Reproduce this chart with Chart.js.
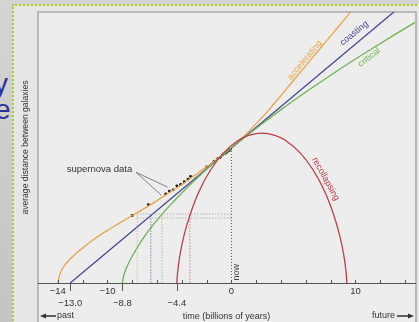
<!DOCTYPE html>
<html>
<head>
<meta charset="utf-8">
<script src="https://cdn.jsdelivr.net/npm/chart.js@4"></script>
<style>
    body { margin: 0; }
    #wrap { position: relative; width: 419px; height: 322px; overflow: hidden; background: linear-gradient(180deg, #d4d4d4, #c4c4c4); }
    .big { position: absolute; font: 28px "Liberation Sans", sans-serif; color: #2b2f9a; }
    #frame { position: absolute; left: 12px; top: 4px; right: -6px; bottom: -6px; border-left: 2px dotted #a4cc14; border-top: 2px dotted #a4cc14; background: #e6e6e6; }
    canvas { position: absolute; left: 0; top: 0; }
</style>
</head>
<body>
<div id="wrap">
    <span class="big" style="left:-6px;top:68px;">y</span>
    <span class="big" style="left:-5px;top:94px;">e</span>
    <div id="frame"></div>
    <canvas id="chart" width="419" height="322"></canvas>
</div>
<script>
// time in billions of years (0 = now), size = average distance (now = 1)
const accelT = [-14, -13.8, -13.5, -13, -12, -11, -10, -9, -8, -7, -6, -5, -4, -3, -2, -1, 0, 1, 2, 3, 4, 5, 6, 7, 8, 9, 10];
const accelA = [0, 0.075, 0.125, 0.18, 0.26, 0.33, 0.39, 0.445, 0.5, 0.553, 0.61, 0.67, 0.73, 0.795, 0.86, 0.93, 1.0, 1.085, 1.18, 1.28, 1.39, 1.5, 1.61, 1.72, 1.83, 1.94, 2.05];

const coastT = [-13, 0, 14];
const coastA = [0, 1, 2.077];

const critT = [-8.8, -8.7, -8.5, -8, -7, -6, -5, -4, -3, -2, -1, 0, 2, 4, 6, 8, 10, 12, 14, 14.8];
const critA = [0, 0.05, 0.105, 0.2, 0.347, 0.466, 0.571, 0.667, 0.757, 0.842, 0.923, 1.0, 1.146, 1.284, 1.414, 1.539, 1.659, 1.774, 1.886, 1.93];

const recolT = [-4.4, -4.39, -4.32, -4.15, -3.82, -3.3, -2.6, -1.7, -0.64, 0.56, 1.4, 2.45, 3.5, 4.34, 5.54, 6.6, 7.5, 8.2, 8.72, 9.05, 9.22, 9.29, 9.3];
const recolA = [0, 0.025, 0.097, 0.21, 0.354, 0.516, 0.681, 0.835, 0.964, 1.057, 1.094, 1.11, 1.094, 1.057, 0.964, 0.835, 0.681, 0.516, 0.354, 0.21, 0.097, 0.025, 0];

const snT = [-8.0, -6.7, -5.3, -5.0, -4.7, -4.4, -4.1, -3.8, -3.5, -3.3, -2.0, -1.4, -1.1, -0.9, -0.7, -0.5, -0.35, -0.2, -0.1];
const snA = [0.50, 0.58, 0.66, 0.68, 0.69, 0.72, 0.73, 0.75, 0.77, 0.79, 0.86, 0.90, 0.92, 0.93, 0.95, 0.96, 0.97, 0.98, 0.99];

// where each model had half today's size
const halfT = [-7.6, -6.5, -5.6, -3.35];
const halfA = [0.511, 0.481];

const minorTicks = [-14, -12, -10, -8, -6, -4, -2, 0, 2, 4, 6, 8, 10, 12, 14];
const mainLabels = [-14, -10, 0, 10];
const ageLabels = [-13, -8.8, -4.4];
const ageText = ['−13.0', '−8.8', '−4.4'];

const colors = {
    accel: 'rgb(232,165,75)',
    coast: 'rgb(72,72,150)',
    crit: 'rgb(112,178,82)',
    recol: 'rgb(192,62,72)'
};

const pts = (xs, ys) => xs.map((x, i) => ({ x: x, y: ys[i] }));
const curve = (data, color) => ({
    data: data, showLine: true, borderColor: color, borderWidth: 1.3,
    pointRadius: 0, tension: 0.3, fill: false
});
const dotted = (data, color) => ({
    data: data, showLine: true, borderColor: color, borderWidth: 1,
    borderDash: [1, 2], pointRadius: 0, fill: false
});

const datasets = [
    dotted(pts([halfT[0], 0], [halfA[0], halfA[0]]), 'rgba(150,150,150,0.9)'),
    dotted(pts([halfT[0], 0], [halfA[1], halfA[1]]), 'rgba(150,150,150,0.9)'),
    dotted(pts([halfT[0], halfT[0]], [0.5, 0]), colors.accel),
    dotted(pts([halfT[1], halfT[1]], [0.5, 0]), colors.coast),
    dotted(pts([halfT[2], halfT[2]], [0.5, 0]), colors.crit),
    dotted(pts([halfT[3], halfT[3]], [0.5, 0]), colors.recol),
    dotted(pts([0, 0], [1, 0]), '#555'),
    curve(pts(recolT, recolA), colors.recol),
    curve(pts(critT, critA), colors.crit),
    curve(pts(coastT, coastA), colors.coast),
    curve(pts(accelT, accelA), colors.accel),
    { data: pts(snT, snA), pointRadius: 1.4, pointBackgroundColor: '#111', pointBorderWidth: 0, showLine: false }
];

const FONT = '"Liberation Sans", Arial, sans-serif';

// panel behind the plot, tick marks, curve names and arrows
const decor = {
    id: 'decor',
    beforeDraw(chart) {
        const c = chart.ctx;
        const a = chart.chartArea;
        c.save();
        c.fillStyle = '#ededed';
        c.fillRect(a.left, a.top, a.right - a.left + 1, 330);
        c.strokeStyle = '#a9a9a9';
        c.lineWidth = 1.5;
        c.beginPath();
        c.moveTo(a.left, 330); c.lineTo(a.left, a.top); c.lineTo(a.right + 1, a.top); c.lineTo(a.right + 1, 330);
        c.stroke();
        c.restore();
    },
    afterDraw(chart) {
        const c = chart.ctx;
        const x = chart.scales.x, y = chart.scales.y;
        const base = chart.chartArea.bottom;
        c.save();
        c.strokeStyle = '#555';
        c.lineWidth = 1;
        minorTicks.forEach(v => {
            const px = Math.round(x.getPixelForValue(v)) + 0.5;
            c.beginPath(); c.moveTo(px, base); c.lineTo(px, base - 3); c.stroke();
        });
        ageLabels.forEach(v => {
            const px = Math.round(x.getPixelForValue(v)) + 0.5;
            c.beginPath(); c.moveTo(px, base); c.lineTo(px, base + 8); c.stroke();
        });

        const label = (text, t, s, angle, color) => {
            c.save();
            c.translate(x.getPixelForValue(t), y.getPixelForValue(s));
            c.rotate(angle * Math.PI / 180);
            c.fillStyle = color;
            c.font = '9px ' + FONT;
            c.textAlign = 'center';
            c.textBaseline = 'middle';
            c.fillText(text, 0, 0);
            c.restore();
        };
        label('accelerating', 5.9, 1.65, -50, colors.accel);
        label('coasting', 9.9, 1.85, -39, colors.coast);
        label('critical', 11.1, 1.67, -38, colors.crit);
        label('recollapsing', 7.6, 0.77, 61, colors.recol);
        label('now', 0.38, 0.08, -90, '#444');

        // supernova data pointer
        c.fillStyle = '#333';
        c.font = '9.5px ' + FONT;
        c.textAlign = 'right';
        c.textBaseline = 'middle';
        c.fillText('supernova data', x.getPixelForValue(-8.0), y.getPixelForValue(0.84));
        c.strokeStyle = '#666';
        c.lineWidth = 0.8;
        const from = [x.getPixelForValue(-7.7), y.getPixelForValue(0.82)];
        [[-5.65, 0.65], [-5.15, 0.71]].forEach(p => {
            c.beginPath();
            c.moveTo(from[0], from[1]);
            c.lineTo(x.getPixelForValue(p[0]), y.getPixelForValue(p[1]));
            c.stroke();
        });

        // past / future arrows
        c.fillStyle = '#333';
        c.strokeStyle = '#222';
        c.lineWidth = 1.4;
        c.font = '9px ' + FONT;
        c.textBaseline = 'middle';
        const ay = 316;
        c.beginPath(); c.moveTo(44, ay); c.lineTo(56, ay); c.stroke();
        c.beginPath(); c.moveTo(40, ay); c.lineTo(46, ay - 2.5); c.lineTo(46, ay + 2.5); c.fill();
        c.textAlign = 'left';
        c.fillText('past', 57, ay);
        c.beginPath(); c.moveTo(397, ay); c.lineTo(410, ay); c.stroke();
        c.beginPath(); c.moveTo(414, ay); c.lineTo(408, ay - 2.5); c.lineTo(408, ay + 2.5); c.fill();
        c.textAlign = 'right';
        c.fillText('future', 395, ay);
        c.restore();
    }
};

new Chart(document.getElementById('chart'), {
    type: 'scatter',
    data: { datasets: datasets },
    options: {
        responsive: false,
        animation: false,
        layout: { padding: { top: 12, right: 4, left: 0, bottom: 0 } },
        plugins: { legend: { display: false }, tooltip: { enabled: false } },
        scales: {
            x: {
                type: 'linear',
                min: -15.6,
                max: 14.8,
                afterBuildTicks: s => { s.ticks = mainLabels.concat(ageLabels).map(v => ({ value: v })); },
                afterFit: s => { s.height = 39; },
                ticks: {
                    autoSkip: false,
                    maxRotation: 0,
                    padding: 3,
                    color: '#333',
                    font: { size: 9.5, family: FONT },
                    callback: v => {
                        const i = ageLabels.indexOf(v);
                        if (i >= 0) return ['', ageText[i]];
                        return v < 0 ? '−' + Math.abs(v) : String(v);
                    }
                },
                grid: { display: false, drawTicks: false },
                border: { display: true, color: '#555', width: 1 },
                title: {
                    display: true,
                    text: 'time (billions of years)',
                    color: '#333',
                    font: { size: 9, family: FONT },
                    padding: { top: 0, bottom: 0 }
                }
            },
            y: {
                min: 0,
                max: 2.007,
                afterFit: s => { s.width = 38; },
                ticks: { display: false },
                grid: { display: false },
                border: { display: false },
                title: {
                    display: true,
                    text: 'average distance between galaxies',
                    color: '#333',
                    font: { size: 8.6, family: FONT },
                    padding: { top: 20, bottom: 0 }
                }
            }
        }
    },
    plugins: [decor]
});
</script>
</body>
</html>
